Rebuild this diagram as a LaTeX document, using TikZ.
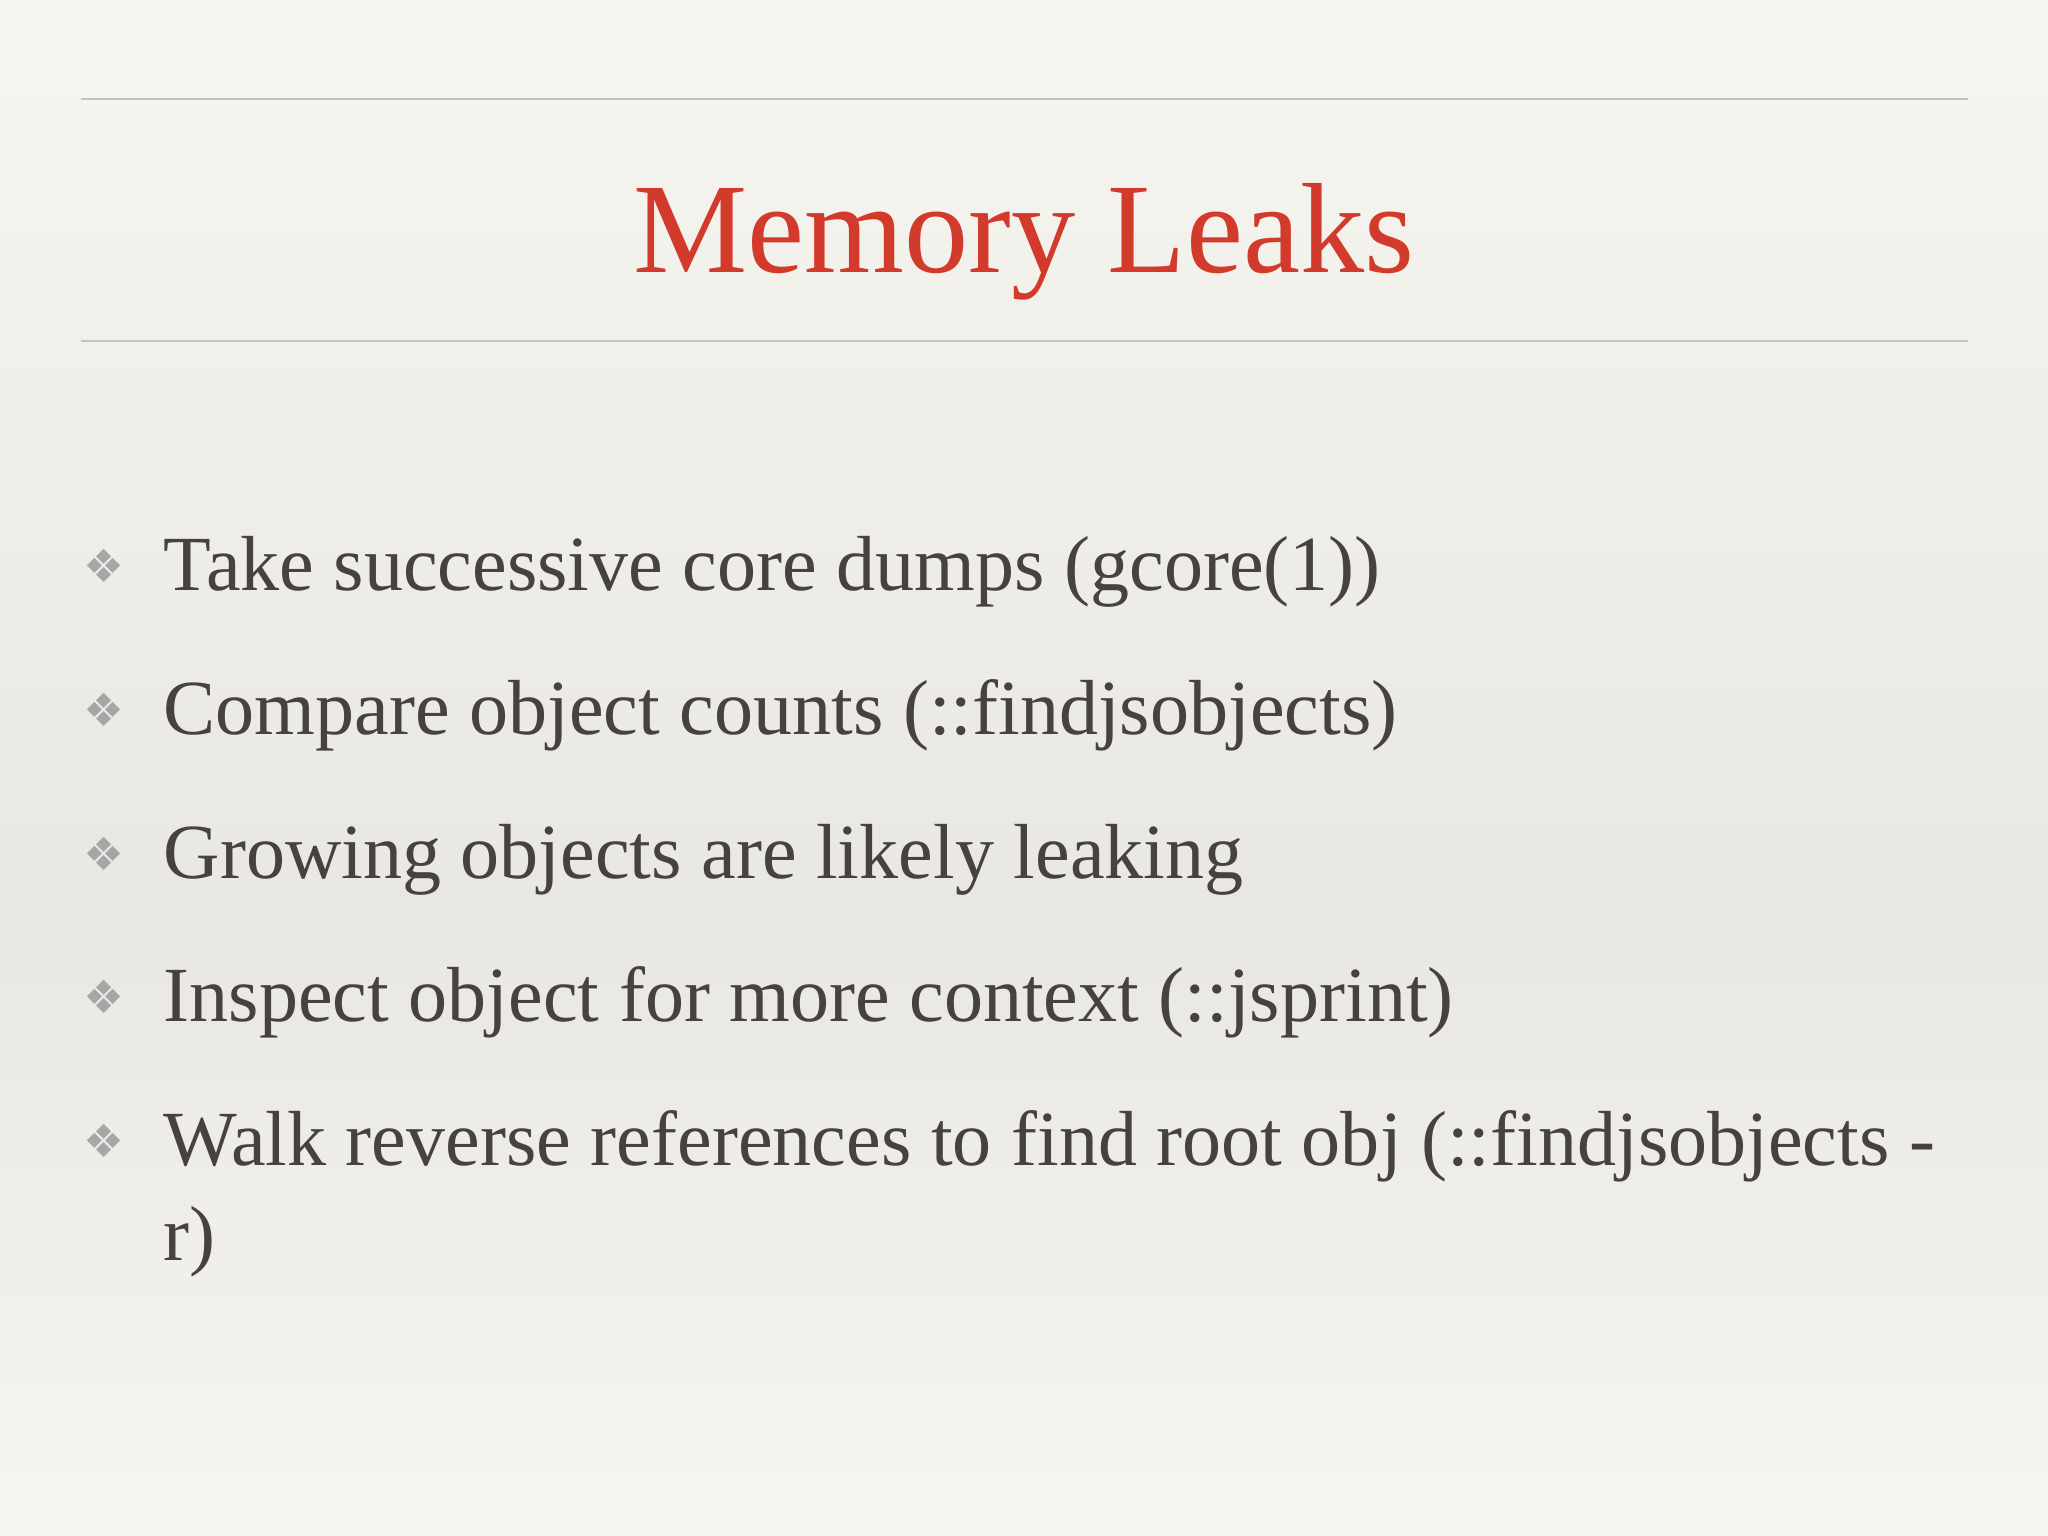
\documentclass[tikz,border=0pt]{standalone}
\usepackage{fontspec}
\setmainfont{Liberation Serif}
\newfontfamily\symfont{DejaVu Sans}
\definecolor{bgtop}{HTML}{F7F5EF}
\definecolor{bgmid}{HTML}{E9E7E3}
\definecolor{titlered}{HTML}{D23B2B}
\definecolor{txt}{HTML}{454240}
\definecolor{rule}{HTML}{C4C2BC}
\begin{document}
\begin{tikzpicture}[x=0.01cm,y=-0.01cm,
  bul/.style={anchor=base,text=gray!70,font=\symfont\fontsize{13}{15}\selectfont},
  item/.style={anchor=base west,inner sep=0pt,text=txt,font=\fontsize{22.2}{27}\selectfont,align=left}]
\shade[top color=bgtop,bottom color=bgmid] (0,0) rectangle (2048,920);
\shade[top color=bgmid,bottom color=bgtop] (0,920) rectangle (2048,1536);
\useasboundingbox (0,0) rectangle (2048,1536);
\coordinate (l1a) at (81,99); \coordinate (l1b) at (1968,99);
\coordinate (l2a) at (81,341); \coordinate (l2b) at (1968,341);
\draw[rule,line width=0.6pt] (l1a) -- (l1b);
\draw[rule,line width=0.6pt] (l2a) -- (l2b);
\node[anchor=base,text=titlered,font=\fontsize{36.5}{40}\selectfont] (title) at (1024,272) {Memory Leaks};
\foreach \y/\t [count=\i] in {590/{Take successive core dumps (gcore(1))},
  734/{Compare object counts (::findjsobjects)},
  878/{Growing objects are likely leaking},
  1021/{Inspect object for more context (::jsprint)}}{
  \node[bul] (b\i) at (104,\y-8) {❖};
  \node[item] (t\i) at (163,\y) {\t};
}
\node[bul] (b5) at (104,1157) {❖};
\node[item] (t5) at (163,1165) {Walk reverse references to find root obj (::findjsobjects -};
\node[item] (t6) at (163,1260) {r)};
\end{tikzpicture}
\end{document}
